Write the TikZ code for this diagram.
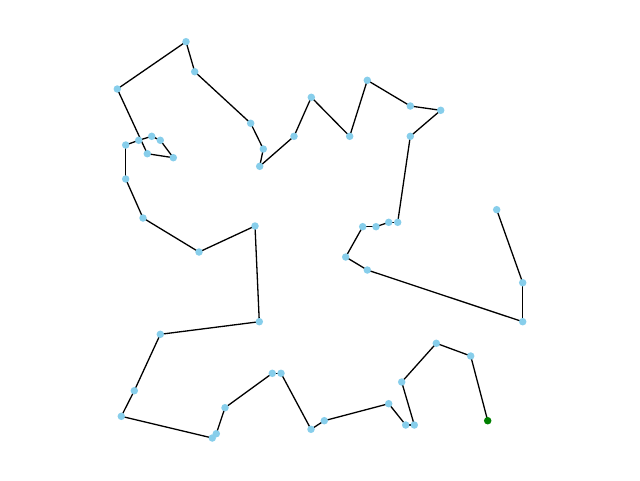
\documentclass[tikz,border=0pt]{standalone}
\definecolor{skyblue}{RGB}{135,206,235}
\definecolor{startgreen}{RGB}{0,128,0}
\begin{document}
\begin{tikzpicture}[x=1pt,y=-1pt,
  city/.style={circle,fill=skyblue,inner sep=0pt,minimum size=7.5pt},
  startcity/.style={circle,fill=startgreen,inner sep=0pt,minimum size=7.5pt},
  tour/.style={black,line width=1.3pt}]
\useasboundingbox (0,0) rectangle (640,480);
\foreach \i/\x/\y in {1/487.7/420.7,2/470.7/356,3/436.3/343.3,4/401.7/382,5/414.3/425,6/405.7/425,7/388.7/403.7,8/324.3/420.7,9/311/429.3,10/281/373.3,11/272.3/373.3,12/225/407.7,13/216.3/433.7,14/212.3/438,15/121.3/416.3,16/134.3/390.7,17/160.3/334.3,18/259.3/321.7,19/255/226,20/199/252,21/143/218,22/125.7/179,23/125.7/145,24/138.7/140.3,25/151.7/136.3,26/160.3/140.3,27/173.3/157.7,28/147.3/153.7,29/117.3/89,30/186/41.7,31/194.7/71.7,32/250.7/123.3,33/263.3/149,34/259.7/166.3,35/294/136.3,36/311.3/97.3,37/349.7/136.3,38/367.3/80.3,39/410.3/106,40/440.7/110.3,41/410.3/136.3,42/397.7/222.3,43/388.7/222.3,44/376/226.7,45/362.7/226.7,46/345.7/257,47/367.3/270,48/522.7/321.7,49/522.7/282.7,50/496.7/209.7}
  \coordinate (c\i) at (\x,\y);
\foreach \i [evaluate=\i as \j using int(\i+1)] in {1,...,49}
  \draw[tour] (c\i) -- (c\j);
\foreach \i in {2,...,50}
  \node[city] (n\i) at (c\i) {};
\node[startcity] (n1) at (c1) {};
\end{tikzpicture}
\end{document}
